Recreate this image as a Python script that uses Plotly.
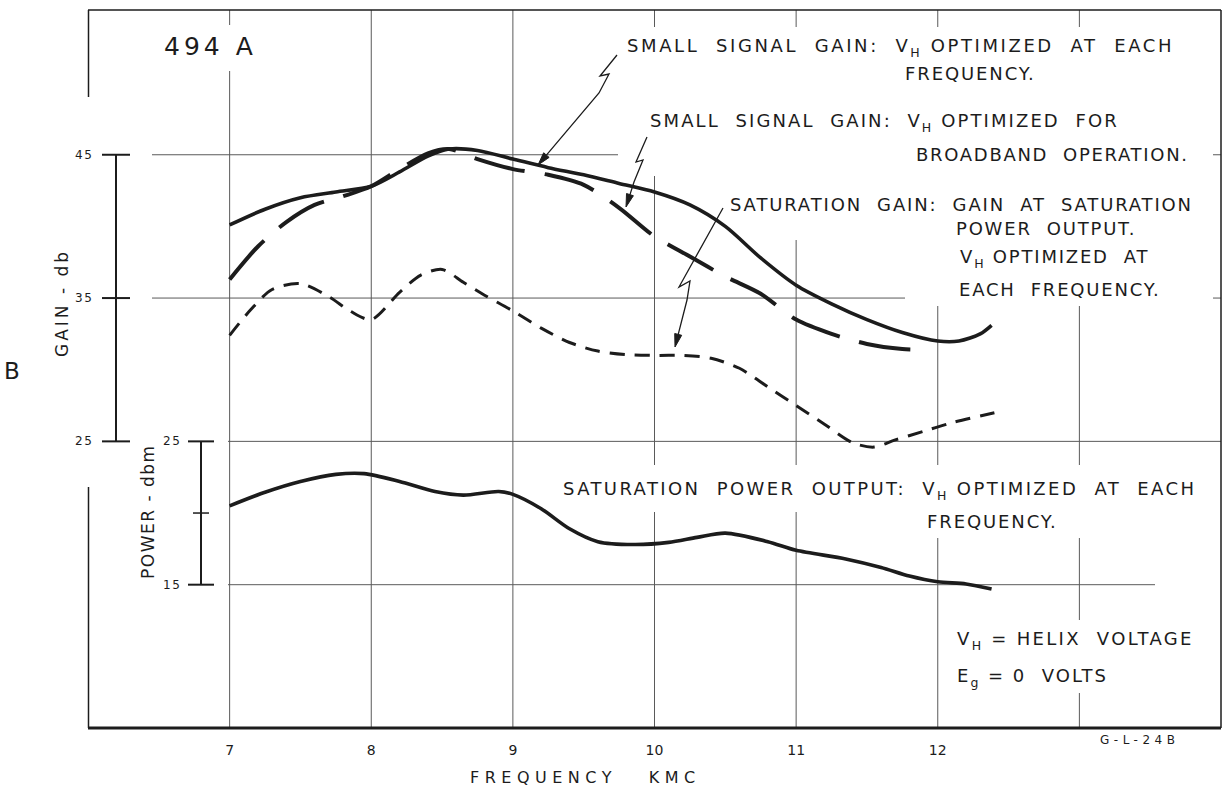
import math
import plotly.graph_objects as go

# ---------------- data ----------------
freq_ss = [7.0, 7.25, 7.5, 7.75, 8.0, 8.2, 8.4, 8.55, 8.75, 9.0, 9.25, 9.5, 9.75,
           10.0, 10.25, 10.5, 10.75, 11.0, 11.25, 11.5, 11.75, 12.0, 12.15, 12.3, 12.38]
gain_ss = [40.1, 41.2, 42.0, 42.4, 42.8, 43.8, 44.9, 45.4, 45.3, 44.7, 44.1, 43.6, 43.0,
           42.4, 41.5, 40.0, 37.8, 35.9, 34.6, 33.5, 32.6, 32.0, 32.0, 32.5, 33.1]

freq_bb = [7.0, 7.2, 7.4, 7.6, 7.8, 8.0, 8.2, 8.4, 8.55, 8.75, 9.0, 9.25, 9.5, 9.75,
           10.0, 10.25, 10.5, 10.75, 11.0, 11.25, 11.5, 11.75, 11.9]
gain_bb = [36.3, 38.6, 40.3, 41.5, 42.1, 42.8, 44.0, 45.1, 45.4, 44.7, 44.0, 43.6, 42.9, 41.3,
           39.3, 37.9, 36.5, 35.3, 33.5, 32.5, 31.8, 31.45, 31.4]

freq_sat = [7.0, 7.15, 7.3, 7.5, 7.7, 7.85, 8.0, 8.2, 8.35, 8.5, 8.65, 8.8, 9.0, 9.2, 9.4,
            9.6, 9.8, 10.0, 10.2, 10.4, 10.6, 10.8, 11.0, 11.2, 11.4, 11.55, 11.7, 11.9, 12.1, 12.4]
gain_sat = [32.4, 34.2, 35.6, 36.0, 35.1, 34.1, 33.5, 35.4, 36.6, 37.0, 36.1, 35.2, 34.1, 32.9, 31.9,
            31.3, 31.05, 31.0, 31.0, 30.8, 30.1, 28.8, 27.5, 26.2, 24.9, 24.6, 25.1, 25.7, 26.3, 27.0]

freq_pow = [7.0, 7.25, 7.5, 7.75, 7.95, 8.2, 8.45, 8.65, 8.9, 9.0, 9.2, 9.4, 9.6, 9.85,
            10.1, 10.3, 10.5, 10.8, 11.0, 11.35, 11.6, 11.8, 12.0, 12.2, 12.38]
power_sat = [20.5, 21.45, 22.2, 22.7, 22.75, 22.2, 21.5, 21.25, 21.5, 21.3, 20.3, 18.9, 18.0, 17.8,
             17.95, 18.3, 18.6, 18.0, 17.4, 16.8, 16.2, 15.6, 15.2, 15.05, 14.7]

x_tickvals = [7, 8, 9, 10, 11, 12]
x_ticktext = ["7", "8", "9", "10", "11", "12"]
x_gridvals = [7, 8, 9, 10, 11, 12, 13]
gain_ticks = [45, 35, 25]
gain_ticklabels = ["45", "35", "25"]
power_ticks = [25, 15]
power_ticklabels = ["25", "15"]
power_minor_ticks = [20]

# ---------------- layout geometry ----------------
W, H = 1225, 791
ML, MR, MT, MB = 88, 4, 10, 63
X0, X1 = 6.0, 14.0
Y0, Y1 = 5.0, 55.1
PW, PH = W - ML - MR, H - MT - MB


def X(px):
    return X0 + (px - ML) / PW * (X1 - X0)


def Y(py):
    return Y1 - (py - MT) / PH * (Y1 - Y0)


def PXp(px):
    return (px - ML) / PW


def PYp(py):
    return (H - MB - py) / PH


FONT = "DejaVu Sans"
INK = "#1c1c1c"
GRID = "#5a5a5a"
NB = "\u00a0"


def sp(text, ls):
    return f'<span style="letter-spacing:{ls}px">{text}</span>'


def sub(ch):
    return f'<span style="font-size:12.5px;baseline-shift:-5px">{ch}</span>'


fig = go.Figure()

fig.add_trace(go.Scatter(x=freq_ss, y=gain_ss, mode="lines",
                         line=dict(color=INK, width=3.6, shape="spline", smoothing=0.8),
                         hoverinfo="skip"))
fig.add_trace(go.Scatter(x=freq_bb, y=gain_bb, mode="lines",
                         line=dict(color=INK, width=4, shape="spline", smoothing=0.8, dash="52px,20px"),
                         hoverinfo="skip"))
fig.add_trace(go.Scatter(x=freq_sat, y=gain_sat, mode="lines",
                         line=dict(color=INK, width=3, shape="spline", smoothing=0.8, dash="15px,10px"),
                         hoverinfo="skip"))
fig.add_trace(go.Scatter(x=freq_pow, y=power_sat, mode="lines",
                         line=dict(color=INK, width=3.6, shape="spline", smoothing=0.8),
                         hoverinfo="skip"))

shapes = []
# vertical grid
for xv in x_gridvals:
    shapes.append(dict(type="line", xref="x", yref="paper", x0=xv, x1=xv, y0=0, y1=1,
                       line=dict(color=GRID, width=1), layer="between"))
# horizontal grid segments (gain 45, 35, 25 ; power 15)
for yv, xs, xe in [(45, 152, 1221), (35, 152, 1221), (25, 228, 1221), (15, 228, 1155)]:
    shapes.append(dict(type="line", xref="x", yref="y", x0=X(xs), x1=X(xe), y0=yv, y1=yv,
                       line=dict(color=GRID, width=1), layer="between"))

# white-out areas behind the lettering (break the grid as in the drawing)
for (a, b, c, d) in [(160, 25, 262, 71), (618, 27, 1213, 176), (700, 176, 1213, 240),
                     (905, 240, 1213, 306), (558, 465, 1213, 512), (890, 505, 1213, 538),
                     (948, 620, 1205, 693)]:
    shapes.append(dict(type="rect", xref="x", yref="y", x0=X(a), x1=X(c), y0=Y(d), y1=Y(b),
                       fillcolor="white", line=dict(width=0), layer="between"))

# gain scale
gx = X(116)
shapes.append(dict(type="line", xref="x", yref="y", x0=gx, x1=gx, y0=min(gain_ticks), y1=max(gain_ticks),
                   line=dict(color=INK, width=2), layer="above"))
for t in gain_ticks:
    shapes.append(dict(type="line", xref="x", yref="y", x0=X(102), x1=X(130), y0=t, y1=t,
                       line=dict(color=INK, width=2), layer="above"))
# power scale
px_ = X(201)
shapes.append(dict(type="line", xref="x", yref="y", x0=px_, x1=px_, y0=min(power_ticks), y1=max(power_ticks),
                   line=dict(color=INK, width=2), layer="above"))
for t in power_ticks:
    shapes.append(dict(type="line", xref="x", yref="y", x0=X(188), x1=X(214), y0=t, y1=t,
                       line=dict(color=INK, width=2), layer="above"))
for t in power_minor_ticks:
    shapes.append(dict(type="line", xref="x", yref="y", x0=X(193), x1=X(209), y0=t, y1=t,
                       line=dict(color=INK, width=1.5), layer="above"))

# frame
shapes += [
    dict(type="line", xref="paper", yref="paper", x0=0, x1=1, y0=1, y1=1, line=dict(color=INK, width=1.5)),
    dict(type="line", xref="paper", yref="paper", x0=1, x1=1, y0=0, y1=1, line=dict(color=INK, width=1.5)),
    dict(type="line", xref="paper", yref="paper", x0=0, x1=1, y0=0, y1=0, line=dict(color=INK, width=3.2)),
    dict(type="line", xref="paper", yref="paper", x0=PXp(88.5), x1=PXp(88.5), y0=PYp(97), y1=1,
         line=dict(color=INK, width=1.5)),
    dict(type="line", xref="paper", yref="paper", x0=PXp(88.5), x1=PXp(88.5), y0=0, y1=PYp(487),
         line=dict(color=INK, width=1.5)),
]

# zig-zag leader lines with filled arrow heads
leaders = [
    [(617, 55), (600, 76), (609, 74), (599, 93)],
    [(647, 137), (636, 162), (643, 160), (634, 182)],
    [(723, 208), (679, 287), (690, 281), (687, 300)],
]
tips = [(538, 165), (626, 207), (675, 347)]
for pts, (tx, ty) in zip(leaders, tips):
    a, b = pts[-1]
    L = math.hypot(tx - a, ty - b)
    ux, uy = (tx - a) / L, (ty - b) / L
    bx, by = tx - 13 * ux, ty - 13 * uy
    nx, ny = -uy, ux
    line_pts = pts + [(bx, by)]
    path = "M " + " L ".join(f"{X(p)},{Y(q)}" for p, q in line_pts)
    shapes.append(dict(type="path", xref="x", yref="y", path=path,
                       line=dict(color=INK, width=1.3), layer="above"))
    head = [(tx, ty), (bx + 3.6 * nx, by + 3.6 * ny), (bx - 3.6 * nx, by - 3.6 * ny)]
    hpath = "M " + " L ".join(f"{X(p)},{Y(q)}" for p, q in head) + " Z"
    shapes.append(dict(type="path", xref="x", yref="y", path=hpath, fillcolor=INK,
                       line=dict(color=INK, width=1), layer="above"))

annotations = []


def txt(text, cx, cy, size, ls, angle=0, xanchor="center"):
    annotations.append(dict(x=PXp(cx), y=PYp(cy), xref="paper", yref="paper", text=sp(text, ls),
                            showarrow=False, xanchor=xanchor, yanchor="middle", textangle=angle,
                            font=dict(family=FONT, size=size, color=INK)))


S2 = NB * 2
VH = "V" + sub("H")
txt("494" + NB + "A", 210, 46, 25, 4)
txt(f"SMALL{S2}SIGNAL{S2}GAIN:{S2}{VH} OPTIMIZED{S2}AT{S2}EACH", 900, 48, 18, 2.6)
txt("FREQUENCY.", 970, 73, 18, 1.9)
txt(f"SMALL{S2}SIGNAL{S2}GAIN:{S2}{VH} OPTIMIZED{S2}FOR", 884, 123, 18, 2.1)
txt(f"BROADBAND{S2}OPERATION.", 1052, 155, 18, 1.7)
txt(f"SATURATION{S2}GAIN:{S2}GAIN{S2}AT{S2}SATURATION", 961, 204, 18, 1.85)
txt(f"POWER{S2}OUTPUT.", 1046, 229, 18, 1.8)
txt(f"{VH} OPTIMIZED{S2}AT", 1054, 258, 18, 1.8)
txt(f"EACH{S2}FREQUENCY.", 1059, 289, 18, 1.8)
txt(f"SATURATION{S2}POWER{S2}OUTPUT:{S2}{VH} OPTIMIZED{S2}AT{S2}EACH", 879, 490, 18, 2.4)
txt("FREQUENCY.", 992, 521, 18, 1.9)
txt(f"{VH} = HELIX{S2}VOLTAGE", 1075, 640, 18, 2.3)
txt("E" + sub("g") + f" = 0{S2}VOLTS", 1032, 677, 18, 2.0)

# scale labels
for t, lab in zip(gain_ticks, gain_ticklabels):
    annotations.append(dict(x=PXp(95), y=(t - Y0) / (Y1 - Y0), xref="paper", yref="paper",
                            text=sp(lab, 1.5), showarrow=False, xanchor="right", yanchor="middle",
                            font=dict(family=FONT, size=12, color=INK)))
for t, lab in zip(power_ticks, power_ticklabels):
    annotations.append(dict(x=PXp(183), y=(t - Y0) / (Y1 - Y0), xref="paper", yref="paper",
                            text=sp(lab, 1.5), showarrow=False, xanchor="right", yanchor="middle",
                            font=dict(family=FONT, size=12, color=INK)))
txt("GAIN - db", 62, 303, 17, 3, angle=-90)
txt("POWER - dbm", 148, 512, 17, 1.5, angle=-90)
txt("B", 12, 371, 23, 0)
txt("FREQUENCY" + NB * 3 + "KMC", 585, 777, 16, 5.5)
txt("G-L-24B", 1139, 740, 12, 4.5)

fig.update_layout(
    width=W, height=H,
    margin=dict(l=ML, r=MR, t=MT, b=MB),
    paper_bgcolor="white", plot_bgcolor="white",
    showlegend=False,
    shapes=shapes,
    annotations=annotations,
    xaxis=dict(range=[X0, X1], tickvals=x_tickvals, ticktext=x_ticktext,
               showgrid=False, zeroline=False, showline=False,
               ticks="", ticklabelstandoff=12,
               tickfont=dict(family=FONT, size=14, color=INK), fixedrange=True),
    yaxis=dict(range=[Y0, Y1], visible=False, fixedrange=True),
)

fig.write_html(
    "out.html",
    config={"displayModeBar": False},
    post_script="document.body.style.margin='0';document.body.style.overflow='hidden';",
)
